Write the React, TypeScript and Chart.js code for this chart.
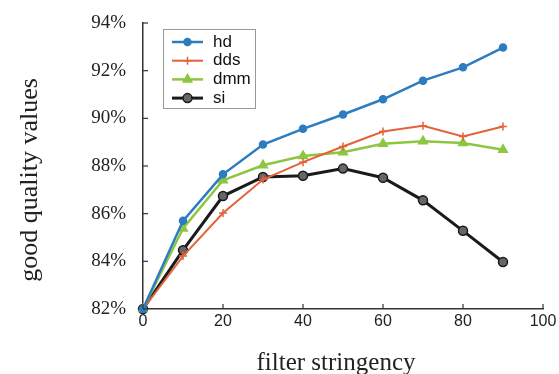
import React, { useEffect, useRef } from "react";
import { Chart, registerables } from "chart.js";
import { drawPoint } from "chart.js/helpers";

Chart.register(...registerables);

const xValues = [0, 10, 20, 30, 40, 50, 60, 70, 80, 90];
const hd = [82.0, 85.7, 87.65, 88.9, 89.56, 90.16, 90.8, 91.58, 92.14, 92.97];
const dds = [82.0, 84.22, 86.03, 87.43, 88.16, 88.82, 89.45, 89.69, 89.24, 89.66];
const dmm = [82.0, 85.38, 87.4, 88.03, 88.42, 88.58, 88.93, 89.04, 88.96, 88.68];
const si = [82.0, 84.47, 86.74, 87.54, 87.59, 87.89, 87.51, 86.56, 85.28, 83.97];
const seriesNames = ["hd", "dds", "dmm", "si"];
const yTitle = "good quality values";
const xTitle = "filter stringency";

const seriesStyles = [
  { color: "#2b7cc0", fill: "#2b7cc0", point: "circle", radius: 3.5, width: 2.5 },
  { color: "#e4623a", fill: "#e4623a", point: "cross", radius: 4, width: 2 },
  { color: "#8dc640", fill: "#8dc640", point: "triangle", radius: 5, width: 2.5 },
  { color: "#1a1a1a", fill: "#666666", point: "circle", radius: 4.5, width: 3 },
];

const inwardTicks = {
  id: "inwardTicks",
  afterDraw(chart: any) {
    const { ctx, chartArea, scales } = chart;
    ctx.save();
    ctx.strokeStyle = "#333";
    ctx.lineWidth = 1.2;
    scales.x.ticks.forEach((t: any) => {
      const px = scales.x.getPixelForValue(t.value);
      ctx.beginPath();
      ctx.moveTo(px, chartArea.bottom);
      ctx.lineTo(px, chartArea.bottom - 5);
      ctx.stroke();
    });
    scales.y.ticks.forEach((t: any) => {
      const py = scales.y.getPixelForValue(t.value);
      ctx.beginPath();
      ctx.moveTo(chartArea.left, py);
      ctx.lineTo(chartArea.left + 5, py);
      ctx.stroke();
    });
    ctx.restore();
  },
};

const axisTitles = {
  id: "axisTitles",
  afterDraw(chart: any) {
    const { ctx, chartArea } = chart;
    ctx.save();
    ctx.fillStyle = "#222";
    ctx.textAlign = "center";
    ctx.textBaseline = "middle";
    ctx.font = "25px 'Liberation Serif', 'Times New Roman', serif";
    ctx.fillText(xTitle, (chartArea.left + chartArea.right) / 2 - 7, chartArea.bottom + 54);
    ctx.translate(30, (chartArea.top + chartArea.bottom) / 2 + 14);
    ctx.rotate(-Math.PI / 2);
    ctx.font = "26px 'Liberation Serif', 'Times New Roman', serif";
    ctx.fillText(yTitle, 0, 0);
    ctx.restore();
  },
};

const boxLegend = {
  id: "boxLegend",
  afterDatasetsDraw(chart: any) {
    const { ctx, chartArea } = chart;
    const x0 = chartArea.left + 20;
    const y0 = chartArea.top + 6;
    const w = 92;
    const rowH = 18.7;
    const h = 79;
    ctx.save();
    ctx.fillStyle = "#fff";
    ctx.fillRect(x0, y0, w, h);
    ctx.strokeStyle = "#999";
    ctx.lineWidth = 1;
    ctx.strokeRect(x0 + 0.5, y0 + 0.5, w, h);
    chart.data.datasets.forEach((ds: any, i: number) => {
      const st = seriesStyles[i];
      const cy = y0 + 13 + i * rowH;
      ctx.strokeStyle = st.color;
      ctx.lineWidth = st.width;
      ctx.beginPath();
      ctx.moveTo(x0 + 9, cy);
      ctx.lineTo(x0 + 40, cy);
      ctx.stroke();
      ctx.fillStyle = st.fill;
      ctx.strokeStyle = st.color;
      ctx.lineWidth = 1.5;
      drawPoint(ctx, { pointStyle: st.point, radius: st.radius, borderWidth: 1.5, rotation: 0 } as any, x0 + 24.5, cy);
      ctx.fillStyle = "#111";
      ctx.font = "17px 'Liberation Sans', Arial, sans-serif";
      ctx.textBaseline = "middle";
      ctx.textAlign = "left";
      ctx.fillText(ds.label, x0 + 50, cy);
    });
    ctx.restore();
  },
};

export default function App() {
  const ref = useRef<HTMLCanvasElement | null>(null);
  useEffect(() => {
    document.body.style.margin = "0";
    const seriesData = [hd, dds, dmm, si];
    const chart = new Chart(ref.current as HTMLCanvasElement, {
      type: "line",
      data: {
        datasets: seriesData.map((vals, i) => ({
          label: seriesNames[i],
          data: xValues.map((x, j) => ({ x, y: vals[j] })),
          borderColor: seriesStyles[i].color,
          backgroundColor: seriesStyles[i].fill,
          pointBackgroundColor: seriesStyles[i].fill,
          pointBorderColor: seriesStyles[i].color,
          pointBorderWidth: 1.5,
          pointStyle: seriesStyles[i].point as any,
          pointRadius: seriesStyles[i].radius,
          borderWidth: seriesStyles[i].width,
          tension: 0,
          clip: false as any,
        })),
      },
      options: {
        animation: false,
        responsive: false,
        devicePixelRatio: 1,
        layout: { padding: { top: 23, right: 16, bottom: 0, left: 0 } },
        plugins: { legend: { display: false }, tooltip: { enabled: false } },
        scales: {
          x: {
            type: "linear",
            min: 0,
            max: 100,
            ticks: {
              stepSize: 20,
              padding: 3,
              color: "#222",
              font: { family: "'Liberation Sans', Arial, sans-serif", size: 16 },
            },
            grid: { display: false, drawTicks: false },
            border: { display: true, color: "#333", width: 1.5 },
            title: { display: false },
            afterFit: (s: any) => {
              s.height = 65;
              s.paddingLeft = 0;
              s.paddingRight = 0;
            },
          },
          y: {
            type: "linear",
            min: 82,
            max: 94,
            ticks: {
              stepSize: 2,
              padding: 17,
              color: "#222",
              font: { family: "'Liberation Serif', 'Times New Roman', serif", size: 19 },
              callback: (v: any) => v + "%",
            },
            grid: { display: false, drawTicks: false },
            border: { display: true, color: "#333", width: 1.5 },
            title: { display: false },
            afterFit: (s: any) => {
              s.width = 143;
              s.paddingTop = 0;
              s.paddingBottom = 0;
            },
          },
        },
      },
      plugins: [inwardTicks, boxLegend, axisTitles],
    });
    return () => chart.destroy();
  }, []);
  return (
    <div style={{ position: "absolute", left: 0, top: 0, width: 559, height: 374, background: "#fff" }}>
      <canvas ref={ref} width={559} height={374} />
    </div>
  );
}
